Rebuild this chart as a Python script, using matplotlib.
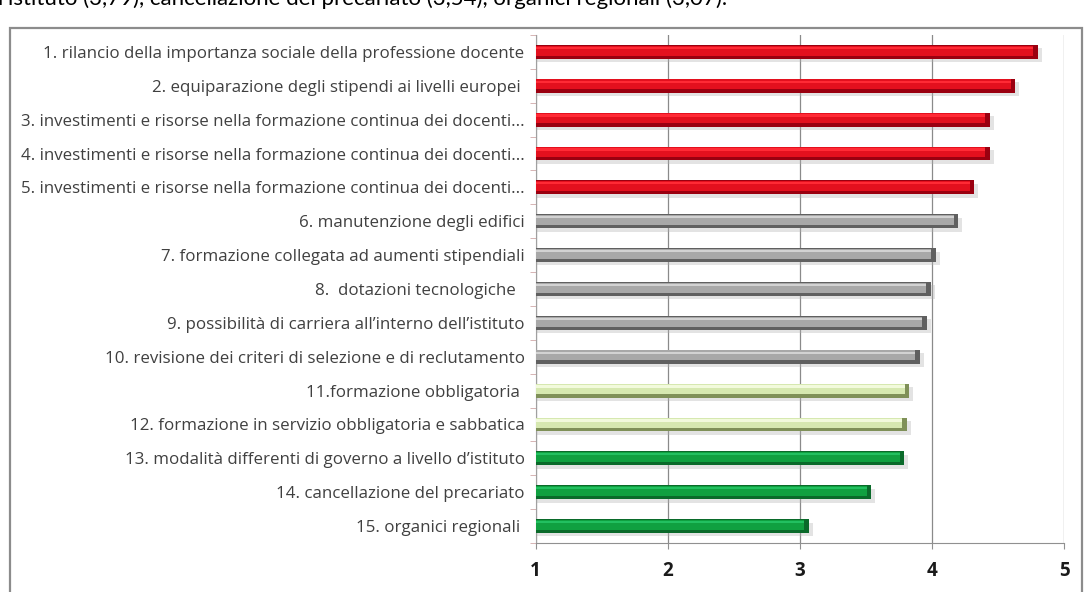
import numpy as np
import matplotlib.pyplot as plt
from matplotlib.patches import Rectangle

# dati
etichette = [
    "1. rilancio della importanza sociale della professione docente",
    "2. equiparazione degli stipendi ai livelli europei ",
    "3. investimenti e risorse nella formazione continua dei docenti...",
    "4. investimenti e risorse nella formazione continua dei docenti...",
    "5. investimenti e risorse nella formazione continua dei docenti...",
    "6. manutenzione degli edifici",
    "7. formazione collegata ad aumenti stipendiali",
    "8.  dotazioni tecnologiche  ",
    "9. possibilità di carriera all\u2019interno dell\u2019istituto",
    "10. revisione dei criteri di selezione e di reclutamento",
    "11.formazione obbligatoria ",
    "12. formazione in servizio obbligatoria e sabbatica",
    "13. modalità differenti di governo a livello d\u2019istituto",
    "14. cancellazione del precariato",
    "15. organici regionali ",
]
valori = [4.80, 4.63, 4.44, 4.44, 4.32, 4.20, 4.03, 3.99, 3.96, 3.91,
          3.83, 3.81, 3.79, 3.54, 3.07]
gruppi = ["rosso"] * 5 + ["grigio"] * 5 + ["verde_chiaro"] * 2 + ["verde"] * 3
xticks = [1, 2, 3, 4, 5]

# colori: (chiaro, medio, scuro)
colori = {
    "rosso": ("#ff2a35", "#e3101e", "#9a0010"),
    "grigio": ("#d2d2d2", "#a8a8a8", "#606060"),
    "verde_chiaro": ("#f2fadc", "#d6e8b0", "#7f9058"),
    "verde": ("#22c060", "#10a040", "#0a6a2a"),
}

plt.rcParams['font.family'] = ['Open Sans', 'DejaVu Sans']

fig = plt.figure(figsize=(10.85, 5.92), dpi=100)

# testo in alto, tagliato come nell'originale
fig.text(-0.002, 1.02, "l\u2019istituto (3,79), cancellazione del precariato (3,54), organici regionali (3,07).",
         fontsize=16.0, color='black', va='top', ha='left', family=['Lato', 'DejaVu Sans'])

# cornice del grafico
fig.patches.append(Rectangle((10 / 1085, -0.05), 1072 / 1085, 1 - 28 / 592 + 0.05,
                             transform=fig.transFigure, fill=False,
                             edgecolor='#8c8c8c', linewidth=1.6))

ax = fig.add_axes([535.7 / 1085, 1 - 543 / 592, (1064 - 535.7) / 1085, (543 - 35) / 592])

y = np.arange(len(valori))
h = 0.41
for i, (v, g) in enumerate(zip(valori, gruppi)):
    chiaro, medio, scuro = colori[g]
    w = v - 1
    # ombra
    ax.barh(i + 0.10, w + 0.03, height=h, left=1, color='#b0b0b0', alpha=0.35, zorder=2)
    ax.barh(i, w, height=h, left=1, color=scuro, zorder=3)
    ax.barh(i - 0.04, w, height=h * 0.72, left=1, color=medio, zorder=4)
    ax.barh(i - 0.12, w, height=h * 0.16, left=1, color=chiaro, zorder=5)
    # tappo finale
    ax.barh(i, 0.035, height=h, left=v - 0.035, color=scuro, zorder=6)

ax.set_xlim(1, 5)
ax.set_ylim(len(valori) - 0.5, -0.5)
ax.set_xticks(xticks)
ax.set_xticklabels([str(t) for t in xticks], fontsize=13.5, fontweight='bold', color='#1a1a1a')
ax.set_yticks(y)
ax.set_yticklabels(etichette, fontsize=12.2, color='#404040')
ax.tick_params(axis='y', length=0, pad=8)
ax.set_yticks(np.arange(len(valori) + 1) - 0.5, minor=True)
ax.tick_params(axis='y', which='minor', length=4, color='#d0a8a8')
ax.tick_params(axis='x', length=4, color='#909090', pad=9)
ax.grid(axis='x', color='#8a8a8a', linewidth=0.9, zorder=0)
ax.set_axisbelow(True)
for s in ['top', 'right']:
    ax.spines[s].set_visible(False)
ax.spines['left'].set_color('#a0a0a0')
ax.spines['bottom'].set_color('#909090')

fig.savefig('out.png', dpi=100)
